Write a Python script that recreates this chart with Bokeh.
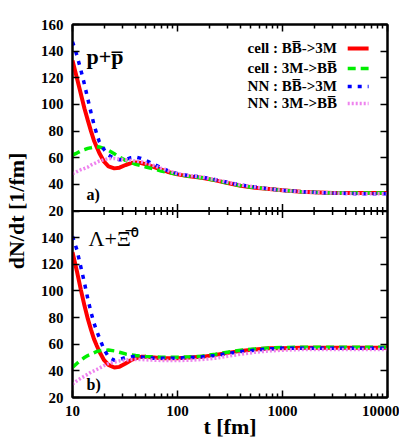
from bokeh.plotting import figure
from bokeh.models import (Range1d, LinearAxis, LogAxis, FixedTicker,
                          NumeralTickFormatter, Span, Label, Arrow)
from bokeh.embed import file_html
from bokeh.resources import INLINE

# ---------------- data ----------------
t_fm = [10, 11, 12, 13, 14, 15, 16, 17, 18, 20, 22, 25, 28, 32, 36, 40, 45, 50,
        60, 70, 80, 100, 130, 170, 230, 300, 400, 550, 750, 1000, 1500, 2000,
        3000, 5000, 7000, 10000]

# panel a) p + pbar
pp_cell_bb_3m = [133, 120, 108, 97, 88, 80, 73, 68, 63.5, 57, 53.5, 52, 52.5, 54.5,
                 56, 56.5, 56, 55, 53, 51, 49.5, 47.5, 46, 45, 43, 41, 39, 37.5,
                 36.5, 35.5, 34.5, 34, 33.5, 33.5, 33.5, 33.5]
pp_cell_3m_bb = [62, 63.5, 65, 66, 67, 67.5, 68, 68.2, 68, 67, 65.5, 63, 60.5, 58,
                 56.5, 55, 54, 53, 51.5, 50, 49, 47.5, 46, 45, 43, 41, 39, 37.5,
                 36.5, 35.5, 34.5, 34, 33.5, 33.5, 33.5, 33.5]
pp_nn_bb_3m = [147, 137, 126, 115, 104, 94, 85, 78, 72, 66, 62, 59.5, 58.5, 58.5,
               60, 60.5, 59.5, 58, 55, 52.5, 50.5, 48, 46.5, 45.5, 43.5, 41.5,
               39.5, 38, 36.5, 35.5, 34.5, 34, 33.5, 33, 33, 33]
pp_nn_3m_bb = [48, 49.5, 51, 52, 53, 54.5, 55.5, 56.5, 57.5, 58.5, 59.3, 59.5, 59,
               58.5, 58, 57.5, 57, 56, 54, 52, 50.5, 48, 46.5, 45.5, 43.5, 41.5,
               39.5, 38, 36.5, 35.5, 34.5, 34, 33.5, 33, 33, 33]

# panel b) Lambda + anti-Xi0
lx_cell_bb_3m = [129, 115, 101, 89, 79, 71, 64, 59, 54.5, 48, 44.5, 42.5, 43, 45.5,
                 48, 49.5, 50.5, 50.5, 50, 49.5, 49.5, 49.5, 50, 50.5, 52, 53.5,
                 55, 56, 57, 57, 57.3, 57.3, 57.3, 57.3, 57.3, 57.3]
lx_cell_3m_bb = [42.5, 45.5, 48, 50, 51.5, 52.5, 53.5, 54.5, 55, 55.5, 55.6, 55, 54,
                 52.7, 52, 51.5, 51, 50.8, 50.5, 50.3, 50.3, 50.3, 50.5, 51, 52.5,
                 54, 55.5, 56.5, 57.2, 57.5, 57.7, 57.7, 57.7, 57.7, 57.7, 57.7]
lx_nn_bb_3m = [141, 131, 118, 106, 94, 84, 76, 70, 65, 56, 50.5, 48, 48.5, 50, 50.5,
               51, 50.5, 50, 49.5, 49.5, 49.5, 49.5, 50, 50.5, 51.5, 53, 54.5, 55.5,
               56.5, 57, 57, 57, 57, 57, 57, 57]
lx_nn_3m_bb = [30, 32.5, 34.5, 36, 37.5, 39, 40, 41, 42, 44, 45.5, 46.5, 47.5, 48,
               48.5, 48.5, 48.5, 48.3, 48, 47.8, 47.7, 47.7, 48, 48.5, 49.5, 51,
               52.5, 54, 55, 55.5, 56, 56, 56, 56, 56, 56]

y_ticks = [20, 40, 60, 80, 100, 120, 140, 160]
x_major = [10, 100, 1000, 10000]
x_minor = [k * 10 ** n for n in (1, 2, 3) for k in range(2, 10)]

series_names = ["cell : BB\u0305->3M", "cell : 3M->BB\u0305",
                "NN : BB\u0305->3M", "NN : 3M->BB\u0305"]
panel_a_text = "p+p\u0305"
panel_b_text = "\u039b+\u039e\u0305\u2070"

# ---------------- styles ----------------
colors = ["#ff0000", "#00ee00", "#0000ff", "#ee82ee"]
dashes = ["solid", "8 5", "4 6", "2 2"]
widths = [4, 3.5, 3.5, 3.5]
FONT = "Liberation Serif"

y_lo, y_hi = y_ticks[0], y_ticks[-1]
span = y_hi - y_lo
FRAME_H = 373

p = figure(width=399, height=447, x_axis_type="log",
           x_range=Range1d(x_major[0], x_major[-1]),
           y_range=Range1d(y_lo, y_hi + span),
           output_backend="svg", toolbar_location=None,
           min_border_left=71, min_border_right=12, min_border_top=24,
           min_border_bottom=50)
p.extra_y_ranges = {"top": Range1d(y_lo - span, y_hi)}
p.xgrid.visible = False
p.ygrid.visible = False
p.outline_line_color = "black"
p.outline_line_width = 2
p.background_fill_color = "white"
p.border_fill_color = "white"


def style_axis(ax, labels=True):
    ax.axis_line_color = "black"
    ax.axis_line_width = 2
    ax.major_tick_in = 7
    ax.major_tick_out = 0
    ax.minor_tick_in = 4
    ax.minor_tick_out = 0
    ax.major_tick_line_color = "black"
    ax.minor_tick_line_color = "black"
    ax.major_tick_line_width = 1.5
    ax.minor_tick_line_width = 1.5
    ax.major_label_text_font = FONT
    ax.major_label_text_font_style = "bold"
    ax.major_label_text_font_size = "15px"
    ax.major_label_text_color = "black"
    ax.axis_label_text_color = "black"
    if not labels:
        ax.major_label_overrides = {v: "" for v in ax.ticker.ticks}
        ax.major_label_standoff = 0


# left axis: bottom panel ticks + shifted top panel ticks
offset = span
left_ticks = y_ticks[:-1] + [v + offset for v in y_ticks]
left_labels = {v: str(v) for v in y_ticks[:-1]}
left_labels.update({v + offset: str(v) for v in y_ticks})
yax = p.yaxis[0]
yax.ticker = FixedTicker(ticks=left_ticks)
yax.major_label_overrides = left_labels
style_axis(yax)
yax.major_label_standoff = 9
yax.axis_label = "dN/dt [1/fm]"
yax.axis_label_text_font = FONT
yax.axis_label_text_font_style = "bold"
yax.axis_label_text_font_size = "22px"
yax.axis_label_standoff = 9

rax = LinearAxis(ticker=FixedTicker(ticks=left_ticks))
style_axis(rax, labels=False)
p.add_layout(rax, "right")

xax = p.xaxis[0]
xax.ticker = FixedTicker(ticks=x_major, minor_ticks=x_minor)
xax.formatter = NumeralTickFormatter(format="0")
style_axis(xax)
xax.major_label_standoff = 8
xax.axis_label = "t [fm]"
xax.axis_label_text_font = FONT
xax.axis_label_text_font_style = "bold"
xax.axis_label_text_font_size = "22px"
xax.axis_label_standoff = -5

tax = LogAxis(ticker=FixedTicker(ticks=x_major, minor_ticks=x_minor))
style_axis(tax, labels=False)
p.add_layout(tax, "above")

# boundary between panels with ticks both ways
p.add_layout(Span(location=y_hi, dimension="width", line_color="black",
                  line_width=2))
u_per_px = 2 * span / FRAME_H
p.segment(x0=x_minor, x1=x_minor, y0=[y_hi - 4 * u_per_px] * len(x_minor),
          y1=[y_hi + 4 * u_per_px] * len(x_minor), line_color="black",
          line_width=1.5)
mid_major = x_major[1:-1]
p.segment(x0=mid_major, x1=mid_major, y0=[y_hi - 7 * u_per_px] * len(mid_major),
          y1=[y_hi + 7 * u_per_px] * len(mid_major), line_color="black",
          line_width=1.5)

# curves
top_series = [pp_cell_bb_3m, pp_cell_3m_bb, pp_nn_bb_3m, pp_nn_3m_bb]
bot_series = [lx_cell_bb_3m, lx_cell_3m_bb, lx_nn_bb_3m, lx_nn_3m_bb]
for ys, c, d, w in zip(top_series, colors, dashes, widths):
    p.line(t_fm, ys, line_color=c, line_dash=d, line_width=w,
           y_range_name="top")
for ys, c, d, w in zip(bot_series, colors, dashes, widths):
    p.line(t_fm, ys, line_color=c, line_dash=d, line_width=w)

# legend (text left, sample right)
leg_y = [142, 127, 113.5, 100.7]
for name, c, d, w, yy in zip(series_names, colors, dashes, widths, leg_y):
    p.add_layout(Label(x=3300, y=yy, y_range_name="top", text=name,
                       text_font=FONT, text_font_style="bold",
                       text_font_size="15px", text_align="right",
                       text_baseline="middle", text_color="black"))
    p.add_layout(Arrow(end=None, x_start=4178, x_end=6607, y_start=yy,
                       y_end=yy, y_range_name="top", line_color=c,
                       line_dash=d, line_width=w))

# panel labels
p.add_layout(Label(x=13.6, y=136, y_range_name="top", text=panel_a_text,
                   text_font=FONT, text_font_style="bold",
                   text_font_size="22px", text_baseline="middle",
                   text_color="black"))
p.add_layout(Label(x=13.6, y=32.5, y_range_name="top", text="a)",
                   text_font=FONT, text_font_style="bold",
                   text_font_size="16px", text_baseline="middle",
                   text_color="black"))
p.add_layout(Label(x=14.2, y=139, text=panel_b_text,
                   text_font=FONT, text_font_size="22px",
                   text_baseline="middle", text_color="black"))
p.add_layout(Label(x=13.6, y=30, text="b)",
                   text_font=FONT, text_font_style="bold",
                   text_font_size="16px", text_baseline="middle",
                   text_color="black"))

open("out.html", "w").write(file_html(p, INLINE))
